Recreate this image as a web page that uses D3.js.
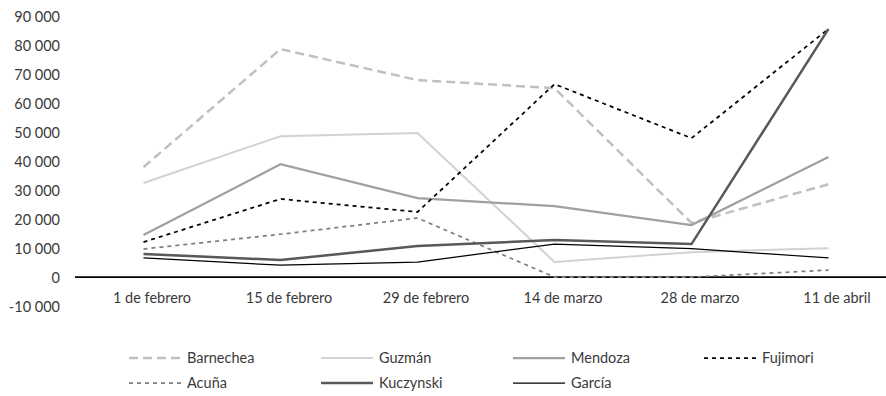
<!DOCTYPE html>
<html>
<head>
<meta charset="utf-8">
<script src="https://cdn.jsdelivr.net/npm/d3@7"></script>
<style>
  html, body { margin: 0; padding: 0; background: #fff; }
  svg { display: block; }
  text { font-family: Lato, "Open Sans", sans-serif; fill: #3a3a3a; }
</style>
</head>
<body>
<svg id="chart" width="886" height="396"></svg>
<script>
// Fechas de las encuestas
const categories = ["1 de febrero", "15 de febrero", "29 de febrero", "14 de marzo", "28 de marzo", "11 de abril"];

// Valores por candidato
const barnechea = [38000, 78800, 68100, 65300, 18700, 32100];
const guzman    = [32500, 48700, 49800, 5200, 8600, 10000];
const mendoza   = [14500, 39000, 27300, 24500, 18000, 41500];
const fujimori  = [12100, 27000, 22500, 66700, 48000, 85800];
const acuna     = [9700, 14800, 20400, 0, 0, 2400];
const kuczynski = [8000, 5900, 10700, 12800, 11400, 85800];
const garcia    = [6600, 4100, 5200, 11400, 9800, 6600];

const seriesNames = ["Barnechea", "Guzmán", "Mendoza", "Fujimori", "Acuña", "Kuczynski", "García"];
const yTicks = [-10000, 0, 10000, 20000, 30000, 40000, 50000, 60000, 70000, 80000, 90000];

// Estilo de cada serie
const styles = {
  "Barnechea": { color: "#c0c0c0", width: 2.5, dash: "9,5" },
  "Guzmán":    { color: "#d2d2d2", width: 2,   dash: null },
  "Mendoza":   { color: "#a0a0a0", width: 2.25, dash: null },
  "Fujimori":  { color: "#000000", width: 1.75, dash: "4,4" },
  "Acuña":     { color: "#7f7f7f", width: 1.75, dash: "4,4" },
  "Kuczynski": { color: "#595959", width: 2.5, dash: null },
  "García":    { color: "#000000", width: 1.25, dash: null }
};

const series = [
  { name: "Barnechea", values: barnechea },
  { name: "Guzmán", values: guzman },
  { name: "Mendoza", values: mendoza },
  { name: "Fujimori", values: fujimori },
  { name: "Acuña", values: acuna },
  { name: "Kuczynski", values: kuczynski },
  { name: "García", values: garcia }
];

const svg = d3.select("#chart");

const x = d3.scalePoint().domain(categories).range([75, 897]).padding(0.5);
const y = d3.scaleLinear().domain([-10000, 90000]).range([306, 16.7]);

// Miles separados por espacio y signo menos como guion
const fmt = v => d3.format(",")(v).replace(/,/g, " ").replace("\u2212", "-");

// Eje vertical: solo etiquetas
const yAxis = d3.axisLeft(y).tickValues(yTicks).tickFormat(fmt).tickSize(0).tickPadding(0);
const gy = svg.append("g").attr("transform", "translate(60,0)").call(yAxis);
gy.select(".domain").remove();
gy.selectAll("text").attr("font-size", 14.5).attr("dy", "0.35em")
  .style("font-family", "Lato, 'Open Sans', sans-serif").attr("fill", "#3a3a3a");

// Línea del cero
svg.append("line")
  .attr("x1", 75).attr("x2", 886)
  .attr("y1", y(0)).attr("y2", y(0))
  .attr("stroke", "#000").attr("stroke-width", 1.75);

// Etiquetas de categorías
const xAxis = d3.axisBottom(x).tickSize(0).tickPadding(0);
const gx = svg.append("g").attr("transform", "translate(8,298)").call(xAxis);
gx.select(".domain").remove();
gx.selectAll("text").attr("font-size", 14.5).attr("dy", "0.35em")
  .style("font-family", "Lato, 'Open Sans', sans-serif").attr("fill", "#3a3a3a");

// Líneas
const line = d3.line().x((d, i) => x(categories[i])).y(d => y(d));

svg.append("g").selectAll("path")
  .data(series)
  .join("path")
  .attr("d", d => line(d.values))
  .attr("fill", "none")
  .attr("stroke", d => styles[d.name].color)
  .attr("stroke-width", d => styles[d.name].width)
  .attr("stroke-dasharray", d => styles[d.name].dash)
  .attr("stroke-linejoin", "miter");

// Leyenda
const legendCols = [129, 321, 513, 704];
const legendRows = [358, 383];
const legend = svg.append("g").selectAll("g")
  .data(seriesNames)
  .join("g")
  .attr("transform", (d, i) => `translate(${legendCols[i % 4]},${legendRows[Math.floor(i / 4)]})`);

legend.append("line")
  .attr("x1", 0).attr("x2", 52).attr("y1", 0).attr("y2", 0)
  .attr("stroke", d => styles[d].color)
  .attr("stroke-width", d => styles[d].width)
  .attr("stroke-dasharray", d => styles[d].dash);

legend.append("text")
  .attr("x", 58).attr("y", 0).attr("dy", "0.35em")
  .attr("font-size", 14.5)
  .text(d => d);
</script>
</body>
</html>
